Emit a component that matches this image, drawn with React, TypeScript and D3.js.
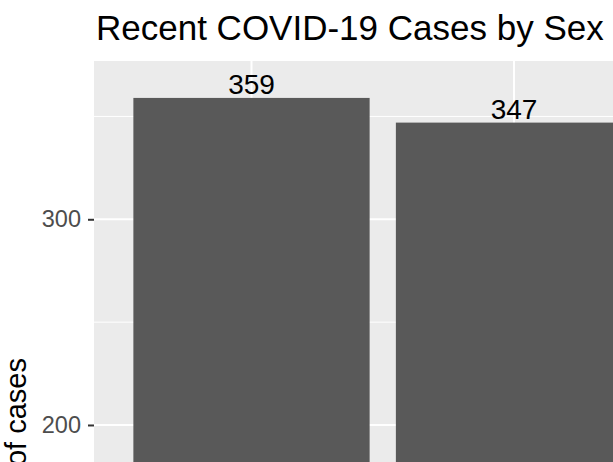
import * as d3 from "d3";
import React, { useEffect, useRef } from "react";

// chart values
const sexes = ["Female", "Male"];
const cases = [359, 347];
const yTicks = [200, 300];
const yMinor = [150, 250, 350];

const W = 613;
const H = 462;
const FONT = "'Liberation Sans', Arial, sans-serif";

export default function App() {
  const svgRef = useRef<SVGSVGElement>(null);

  useEffect(() => {
    const svg = d3.select(svgRef.current);
    svg.selectAll("*").remove();

    // panel geometry (the picture is a crop of a bigger ggplot)
    const panel = { left: 94, top: 61, right: 671.5, bottom: 873.3 };
    const maxV = d3.max(cases) as number;
    const pad = maxV * 0.05;

    const x = d3
      .scaleBand<string>()
      .domain(sexes)
      .range([panel.left, panel.right])
      .paddingInner(0.1)
      .paddingOuter(0.15);

    const y = d3
      .scaleLinear()
      .domain([-pad, maxV + pad])
      .range([panel.bottom, panel.top]);

    svg
      .append("rect")
      .attr("x", panel.left)
      .attr("y", panel.top)
      .attr("width", panel.right - panel.left)
      .attr("height", panel.bottom - panel.top)
      .attr("fill", "#EBEBEB");

    // minor grid
    svg
      .append("g")
      .selectAll("line")
      .data(yMinor)
      .enter()
      .append("line")
      .attr("x1", panel.left)
      .attr("x2", panel.right)
      .attr("y1", (d) => y(d))
      .attr("y2", (d) => y(d))
      .attr("stroke", "#FFFFFF")
      .attr("stroke-width", 1);

    // major grid
    svg
      .append("g")
      .selectAll("line")
      .data(yTicks)
      .enter()
      .append("line")
      .attr("x1", panel.left)
      .attr("x2", panel.right)
      .attr("y1", (d) => y(d))
      .attr("y2", (d) => y(d))
      .attr("stroke", "#FFFFFF")
      .attr("stroke-width", 2);

    svg
      .append("g")
      .selectAll("line")
      .data(sexes)
      .enter()
      .append("line")
      .attr("x1", (d) => (x(d) as number) + x.bandwidth() / 2)
      .attr("x2", (d) => (x(d) as number) + x.bandwidth() / 2)
      .attr("y1", panel.top)
      .attr("y2", panel.bottom)
      .attr("stroke", "#FFFFFF")
      .attr("stroke-width", 2);

    // bars
    svg
      .append("g")
      .selectAll("rect")
      .data(sexes)
      .enter()
      .append("rect")
      .attr("x", (d) => x(d) as number)
      .attr("y", (d, i) => y(cases[i]))
      .attr("width", x.bandwidth())
      .attr("height", (d, i) => y(0) - y(cases[i]))
      .attr("fill", "#595959");

    // value labels
    svg
      .append("g")
      .selectAll("text")
      .data(sexes)
      .enter()
      .append("text")
      .attr("x", (d) => (x(d) as number) + x.bandwidth() / 2)
      .attr("y", (d, i) => y(cases[i]) - 4)
      .attr("text-anchor", "middle")
      .attr("font-family", FONT)
      .attr("font-size", 28)
      .attr("fill", "#000000")
      .text((d, i) => cases[i]);

    // y axis
    const yAxis = svg
      .append("g")
      .attr("transform", `translate(${panel.left},0)`)
      .call(d3.axisLeft(y).tickValues(yTicks).tickSize(6).tickPadding(7));
    yAxis.select(".domain").remove();
    yAxis.selectAll("line").attr("stroke", "#333333").attr("stroke-width", 2);
    yAxis
      .selectAll("text")
      .attr("font-family", FONT)
      .attr("font-size", 23.5)
      .attr("fill", "#4D4D4D");

    // y title
    svg
      .append("text")
      .attr("transform", `translate(26,358) rotate(-90)`)
      .attr("text-anchor", "end")
      .attr("font-family", FONT)
      .attr("font-size", 29)
      .attr("fill", "#000000")
      .text("Number of cases");

    // title
    svg
      .append("text")
      .attr("x", 96)
      .attr("y", 39.5)
      .attr("font-family", FONT)
      .attr("font-size", 35)
      .attr("fill", "#000000")
      .text("Recent COVID-19 Cases by Sex");
  }, []);

  return (
    <svg
      ref={svgRef}
      width={W}
      height={H}
      style={{ position: "absolute", left: 0, top: 0, background: "#FFFFFF", overflow: "hidden" }}
    />
  );
}
